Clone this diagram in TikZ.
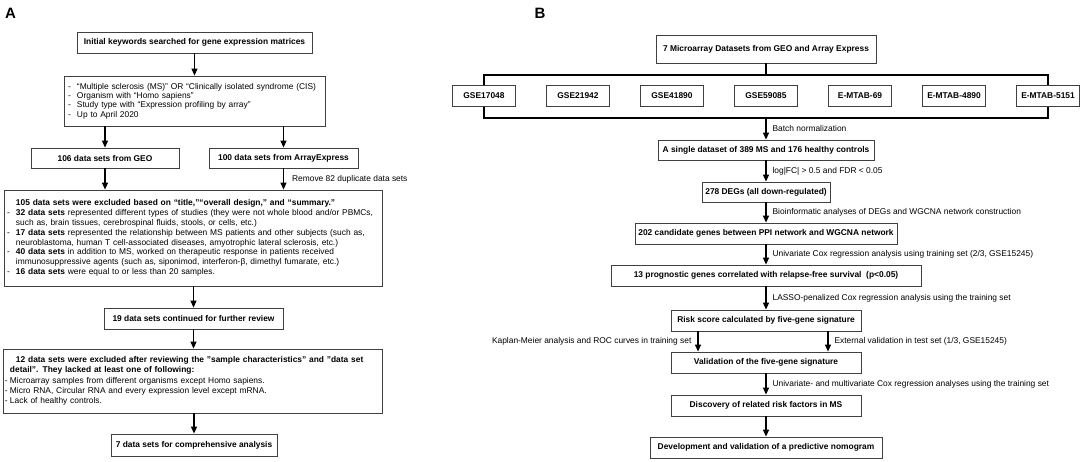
\documentclass[tikz,border=0pt]{standalone}
\usepackage{fontspec}
\setmainfont{Liberation Sans}
\usetikzlibrary{arrows.meta}
\newcommand\fs{\fontsize{8.4}{9.4}\selectfont}
\newcommand\itm[2][9pt]{\makebox[#1][l]{-}#2}
\begin{document}
\begin{tikzpicture}[x=1pt,y=-1pt,
 box/.style={draw=black!75, line width=0.8pt, fill=white, inner sep=0pt, font=\fs\bfseries, align=center},
 tbox/.style={draw=black!75, line width=0.8pt, fill=white, inner ysep=0pt, font=\fs, align=left},
 arr/.style={-{Triangle[length=7pt,width=6pt]}, line width=1.2pt},
 lbl/.style={font=\fs, inner sep=0pt},
 panel/.style={font=\fontsize{15}{15}\selectfont\bfseries, inner sep=0pt}]
\useasboundingbox (0,0) rectangle (1084,462);
% ---------------- Panel A
\node[panel] (pA) at (10.5,13) {A};
\node[box, minimum width=235pt, minimum height=21pt] (b1) at (194.5,42.5) {Initial keywords searched for gene expression matrices};
\node[tbox, inner xsep=4pt, text width=253pt, minimum height=50pt] (b2) at (194.5,101) {\itm{“Multiple sclerosis (MS)” OR “Clinically isolated syndrome (CIS)}\\ \itm{Organism with “Homo sapiens”}\\ \itm{Study type with “Expression profiling by array”}\\ \itm{Up to April 2020}};
\node[box, minimum width=148pt, minimum height=20pt] (geo) at (105,158) {106 data sets from GEO};
\node[box, minimum width=149pt, minimum height=20pt] (ae) at (283.5,158) {100 data sets from ArrayExpress};
\node[tbox, inner xsep=3pt, text width=372pt, minimum height=96pt, font=\fontsize{8.4}{9.8}\selectfont] (big) at (193,238) {\hspace*{9pt}\textbf{105 data sets were excluded based on “title,”“overall design,” and “summary.”}\\
\itm{\textbf{32 data sets} represented different types of studies (they were not whole blood and/or PBMCs,}\\
\hspace*{9pt}such as, brain tissues, cerebrospinal fluids, stools, or cells, etc.)\\
\itm{\textbf{17 data sets} represented the relationship between MS patients and other subjects (such as,}\\
\hspace*{9pt}neuroblastoma, human T cell-associated diseases, amyotrophic lateral sclerosis, etc.)\\
\itm{\textbf{40 data sets} in addition to MS, worked on therapeutic response in patients received}\\
\hspace*{9pt}immunosuppressive agents (such as, siponimod, interferon-β, dimethyl fumarate, etc.)\\
\itm{\textbf{16 data sets} were equal to or less than 20 samples.}};
\node[box, minimum width=179pt, minimum height=21pt] (r19) at (193.5,318.5) {19 data sets continued for further review};
\node[tbox, inner xsep=2pt, text width=375pt, minimum height=64pt, font=\fontsize{8.4}{10.2}\selectfont] (ex12) at (192.5,381) {\hspace*{11pt}\textbf{12 data sets were excluded after reviewing the "sample characteristics" and "data set}\\ \hspace*{5pt}\textbf{detail". They lacked at least one of following:}\\ \itm[5pt]{Microarray samples from different organisms except Homo sapiens.}\\ \itm[5pt]{Micro RNA, Circular RNA and every expression level except mRNA.}\\ \itm[5pt]{Lack of healthy controls.}};
\node[box, minimum width=166pt, minimum height=22pt] (r7) at (194,445) {7 data sets for comprehensive analysis};
\draw[arr] (b1) -- (b2);
\draw[arr] (b2.south -| geo.north) -- (geo.north);
\draw[arr] (b2.south -| ae.north) -- (ae.north);
\draw[arr] (geo) -- (geo |- big.north);
\draw[arr] (ae) -- node[lbl, anchor=west, xshift=8pt]{Remove 82 duplicate data sets} (ae |- big.north);
\draw[arr] (big.south -| r19.north) -- (r19.north);
\draw[arr] (r19.south) -- (r19.south |- ex12.north);
\draw[arr] (ex12.south -| r7.north) -- (r7.north);
% ---------------- Panel B
\node[panel] (pB) at (540,13) {B};
\node[box, minimum width=220pt, minimum height=28pt] (top) at (766,49) {7 Microarray Datasets from GEO and Array Express};
\coordinate (brTL) at (484,75);
\coordinate (brBR) at (1048,118);
\coordinate (brT) at (766,75);
\coordinate (brB) at (766,118);
\draw[line width=1.2pt] (brTL) rectangle (brBR);
\draw[line width=1.2pt] (top) -- (brT);
\foreach \t [count=\i from 0] in {GSE17048,GSE21942,GSE41890,GSE59085,E-MTAB-69,E-MTAB-4890,E-MTAB-5151}
  \node[box, minimum width=63pt, minimum height=21pt] (ds\i) at (484+94*\i,95.5) {\t};
\node[box, minimum width=216pt, minimum height=20pt] (sg) at (766,150) {A single dataset of 389 MS and 176 healthy controls};
\node[box, minimum width=128pt, minimum height=20pt] (d278) at (766,192) {278 DEGs (all down-regulated)};
\node[box, minimum width=262pt, minimum height=21pt] (c202) at (766,233.5) {202 candidate genes between PPI network and WGCNA network};
\node[box, minimum width=310pt, minimum height=21pt] (p13) at (766,275.5) {13 prognostic genes correlated with relapse-free survival \ (p<0.05)};
\node[box, minimum width=190pt, minimum height=21pt] (risk) at (766,320.5) {Risk score calculated by five-gene signature};
\node[box, minimum width=190pt, minimum height=21pt] (val) at (766,362.5) {Validation of the five-gene signature};
\node[box, minimum width=190pt, minimum height=21pt] (disc) at (766,405.5) {Discovery of related risk factors in MS};
\node[box, minimum width=232pt, minimum height=21pt] (dev) at (766,447.5) {Development and validation of a predictive nomogram};
\draw[arr] (brB) -- node[lbl, anchor=west, xshift=6pt]{Batch normalization} (sg);
\draw[arr] (sg) -- node[lbl, anchor=west, xshift=6pt]{log|FC| > 0.5 and FDR < 0.05} (d278);
\draw[arr] (d278) -- node[lbl, anchor=west, xshift=6pt]{Bioinformatic analyses of DEGs and WGCNA network construction} (c202);
\draw[arr] (c202) -- node[lbl, anchor=west, xshift=6pt]{Univariate Cox regression analysis using training set (2/3, GSE15245)} (p13);
\draw[arr] (p13) -- node[lbl, anchor=west, xshift=6pt]{LASSO-penalized Cox regression analysis using the training set} (risk);
\draw[arr] ([xshift=-68pt]risk.south) -- node[lbl, anchor=east, xshift=-6pt]{Kaplan-Meier analysis and ROC curves in training set} ([xshift=-68pt]val.north);
\draw[arr] ([xshift=62pt]risk.south) -- node[lbl, anchor=west, xshift=6pt]{External validation in test set (1/3, GSE15245)} ([xshift=62pt]val.north);
\draw[arr] (val) -- node[lbl, anchor=west, xshift=6pt]{Univariate- and multivariate Cox regression analyses using the training set} (disc);
\draw[arr] (disc) -- (dev);
\end{tikzpicture}
\end{document}
